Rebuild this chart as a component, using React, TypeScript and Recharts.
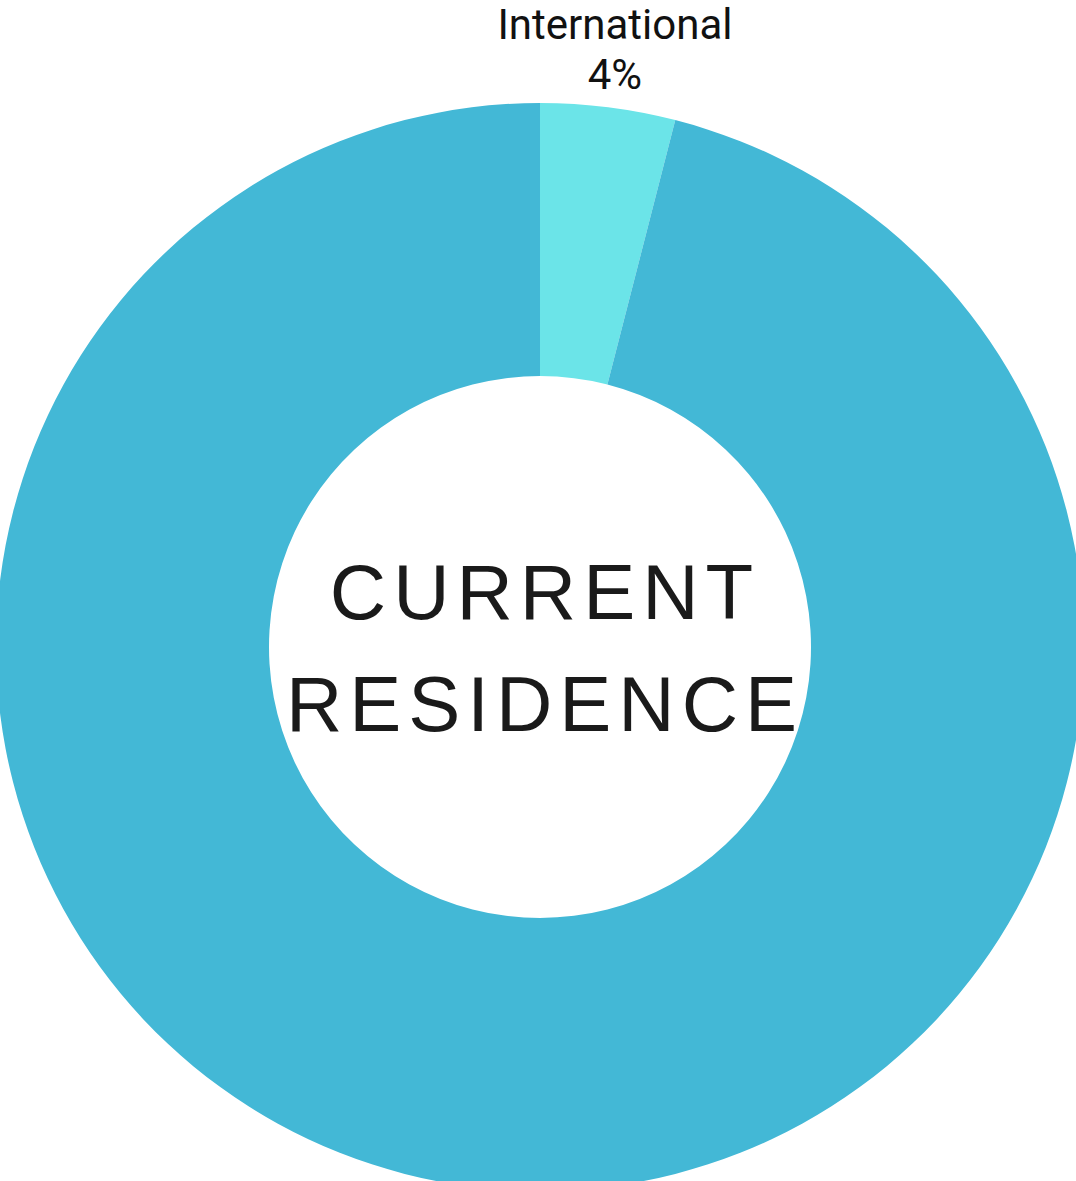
import { Cell, Pie, PieChart } from "recharts";

const categories = ["International", "Domestic"];
const shares = [4, 96];
const showLabel = [true, false];
const titleLines = ["CURRENT", "RESIDENCE"];
const COLORS = ["#6be4e8", "#43b8d6"];

const data = categories.map((name, i) => ({ name, value: shares[i], show: showLabel[i] }));

const CX = 540;
const CY = 647;
const RAD = Math.PI / 180;

function renderLabel(props: any) {
  const { cx, cy, midAngle, outerRadius, payload, percent } = props;
  if (!payload.show) return null;
  const r = outerRadius + 54;
  const x = cx + r * Math.cos(-midAngle * RAD);
  const y = cy + r * Math.sin(-midAngle * RAD);
  return (
    <text x={x} y={y} textAnchor="middle" fill="#111" fontFamily="Roboto, sans-serif" fontSize={42}>
      <tspan x={x} dy={-15}>{payload.name}</tspan>
      <tspan x={x} dy={50}>{`${Math.round(percent * 100)}%`}</tspan>
    </text>
  );
}

export default function App() {
  return (
    <div style={{ position: "absolute", left: 0, top: 0, width: 1076, height: 1181, overflow: "hidden", background: "#fff" }}>
      <PieChart width={1076} height={1181} margin={{ top: 0, right: 0, bottom: 0, left: 0 }}>
        <Pie
          data={data}
          dataKey="value"
          nameKey="name"
          cx={CX}
          cy={CY}
          innerRadius={271}
          outerRadius={544}
          startAngle={90}
          endAngle={-270}
          stroke="none"
          label={renderLabel}
          labelLine={false}
          isAnimationActive={false}
        >
          {data.map((d, i) => (
            <Cell key={d.name} fill={COLORS[i]} />
          ))}
        </Pie>
      </PieChart>
      <svg width={1076} height={1181} style={{ position: "absolute", left: 0, top: 0, pointerEvents: "none" }}>
        <text
          textAnchor="middle"
          fill="#1a1a1a"
          style={{ fontFamily: "'Liberation Sans', Arial, sans-serif", fontSize: 78, letterSpacing: 7 }}
        >
          <tspan x={CX + 5} y={CY - 28}>{titleLines[0]}</tspan>
          <tspan x={CX + 5} y={CY + 84}>{titleLines[1]}</tspan>
        </text>
      </svg>
    </div>
  );
}
